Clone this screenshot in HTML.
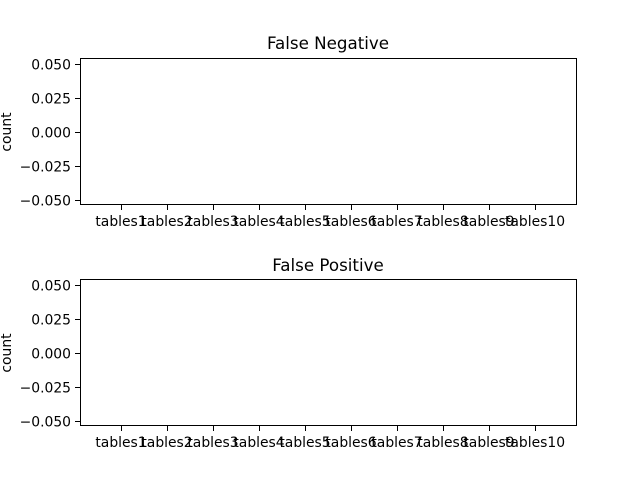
<!DOCTYPE html>
<html><head><style>body{margin:0;background:#fff}svg{display:block}</style></head><body>
<svg width="640" height="480" xmlns="http://www.w3.org/2000/svg" font-family="DejaVu Sans, Liberation Sans, sans-serif" font-size="13.9">
<rect width="640" height="480" fill="#fff"/>
<g id="a1">
<rect x="80.5" y="58.5" width="496" height="146" fill="none" stroke="#000" stroke-width="1"/>
<text x="328" y="49" text-anchor="middle" font-size="16.7">False Negative</text>
<g stroke="#000" stroke-width="1">
<line x1="75" y1="64.5" x2="80" y2="64.5"/><line x1="75" y1="98.5" x2="80" y2="98.5"/><line x1="75" y1="132.5" x2="80" y2="132.5"/><line x1="75" y1="166.5" x2="80" y2="166.5"/><line x1="75" y1="200.5" x2="80" y2="200.5"/>
<line x1="121.5" y1="205" x2="121.5" y2="210"/><line x1="167.5" y1="205" x2="167.5" y2="210"/><line x1="213.5" y1="205" x2="213.5" y2="210"/><line x1="259.5" y1="205" x2="259.5" y2="210"/><line x1="305.5" y1="205" x2="305.5" y2="210"/><line x1="351.5" y1="205" x2="351.5" y2="210"/><line x1="397.5" y1="205" x2="397.5" y2="210"/><line x1="443.5" y1="205" x2="443.5" y2="210"/><line x1="489.5" y1="205" x2="489.5" y2="210"/><line x1="535.5" y1="205" x2="535.5" y2="210"/>
</g>
<g text-anchor="end">
<text x="71" y="69.5">0.050</text><text x="71" y="103.5">0.025</text><text x="71" y="137.5">0.000</text><text x="71" y="171.5">−0.025</text><text x="71" y="205.5">−0.050</text>
</g>
<g text-anchor="middle">
<text x="121" y="226">tables1</text><text x="167" y="226">tables2</text><text x="213" y="226">tables3</text><text x="259" y="226">tables4</text><text x="305" y="226">tables5</text><text x="351" y="226">tables6</text><text x="397" y="226">tables7</text><text x="443" y="226">tables8</text><text x="489" y="226">tables9</text><text x="535" y="226">tables10</text>
</g>
<text transform="translate(11,132) rotate(-90)" text-anchor="middle">count</text>
</g>
<use href="#a1" transform="translate(0,221)"/>
<rect x="200" y="255" width="240" height="22" fill="#fff"/>
<text x="328" y="271" text-anchor="middle" font-size="16.7">False Positive</text>
</svg>
</body></html>
